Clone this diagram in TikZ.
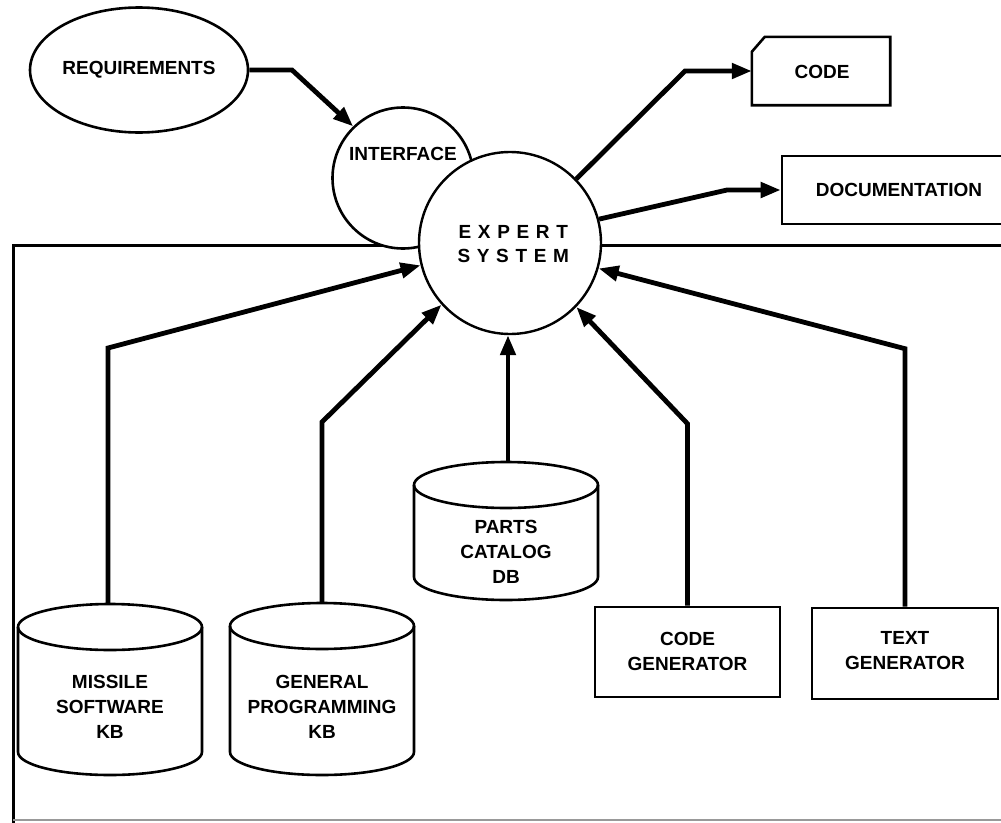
\documentclass[tikz,border=0pt]{standalone}
\usepackage{fontspec}
\setmainfont{Liberation Sans}
\usetikzlibrary{arrows.meta,shapes.geometric}

% database cylinder: centre x, top-ellipse y, bottom-ellipse y, x radius, y radius
\newcommand\dbcylinder[5]{%
  \draw[outline, fill=white] (#1-#4,#2) -- (#1-#4,#3)
    arc[start angle=180, end angle=360, x radius=#4pt, y radius=#5pt] -- (#1+#4,#2);
  \draw[outline] (#1,#2) ellipse[x radius=#4pt, y radius=#5pt];
}

\begin{document}
\begin{tikzpicture}[x=1pt, y=-1pt,
  lbl/.style={font=\bfseries\fontsize{19}{25}\selectfont, align=center, inner sep=0pt},
  spaced/.style={font=\bfseries\fontsize{19}{24}\selectfont\addfontfeature{LetterSpace=35},
                 align=center, inner sep=0pt},
  outline/.style={line width=2.6pt},
  frameline/.style={line width=3pt},
  flow/.style={line width=4.8pt, line join=miter, -{Triangle[length=20pt,width=15pt]}},
  blank/.style={draw=none, inner sep=0pt},
]
\useasboundingbox (0,0) rectangle (1001,822);
\fill[white] (0,0) rectangle (1001,822);

% surrounding frame of the knowledge sources
\draw[frameline] (1030,245) -- (13,245) -- (13,840);
\draw[line width=2pt, black!40] (13,820) -- (1030,820);

% requirements and the interface
\node[ellipse, draw, outline, fill=white, minimum width=218pt, minimum height=125pt, inner sep=0pt]
  (req) at (139,70) {};
\node[lbl] (reqt) at (139,70) {REQUIREMENTS};

\node[circle, draw, outline, fill=white, minimum size=141pt, inner sep=0pt] (ifc) at (403,178) {};
\node[lbl] (ifct) at (403,154) {INTERFACE};

% the expert system
\node[circle, draw, line width=2.4pt, fill=white, minimum size=182pt, inner sep=0pt] (es) at (510,243) {};
\node[spaced, xshift=3.3pt] (est) at (510,244) {EXPERT\\SYSTEM};

% outputs
\node[blank, minimum width=138pt, minimum height=68pt] (code) at (821,71) {};
\draw[outline, fill=white] (code.south west) -- ([yshift=-15pt]code.north west)
  -- ([xshift=13pt]code.north west) -- (code.north east) -- (code.south east) -- cycle;
\node[lbl] (codet) at (822,72) {CODE};

\node[draw, outline, fill=white, minimum width=234pt, minimum height=68pt, inner sep=0pt]
  (doc) at (899,190) {};
\node[lbl] (doct) at (899,190) {DOCUMENTATION};

% knowledge bases and catalogue
\dbcylinder{110}{627}{752}{92}{23}
\node[lbl] (msw) at (110,707) {MISSILE\\SOFTWARE\\KB};
\coordinate (msw-top) at (108,604);

\dbcylinder{322}{626}{752}{92}{23}
\node[lbl] (gen) at (322,707) {GENERAL\\PROGRAMMING\\KB};
\coordinate (gen-top) at (322,603);

\dbcylinder{506}{485}{577}{92}{23}
\node[lbl] (parts) at (506,552) {PARTS\\CATALOG\\DB};
\coordinate (parts-top) at (508,462);

% generators
\node[draw, outline, fill=white, minimum width=185pt, minimum height=90pt, inner sep=0pt]
  (cg) at (687.5,652) {};
\node[lbl] (cgt) at (687.5,651) {CODE\\GENERATOR};

\node[draw, outline, fill=white, minimum width=186pt, minimum height=91pt, inner sep=0pt]
  (tg) at (905,653.5) {};
\node[lbl] (tgt) at (905,651) {TEXT\\GENERATOR};

% connectors
\draw[flow] (req.east) -- (292,70) -- (ifc.134.4);
\draw[flow] (es.44.6) -- (685,71) -- (code.west);
\draw[flow] (es.15.5) -- (727,190) -- (doc.west);

\draw[flow] (msw-top) -- ++(0,-256) -- (es.194.6);
\draw[flow] (gen-top) -- ++(0,-181) -- (es.222.4);
\draw[flow] (parts-top) -- (parts-top |- es.south);
\draw[flow] (cg.north) -- ++(0,-182) -- (es.316);
\draw[flow] (tg.north) -- ++(0,-258) -- (es.344.7);
\end{tikzpicture}
\end{document}
